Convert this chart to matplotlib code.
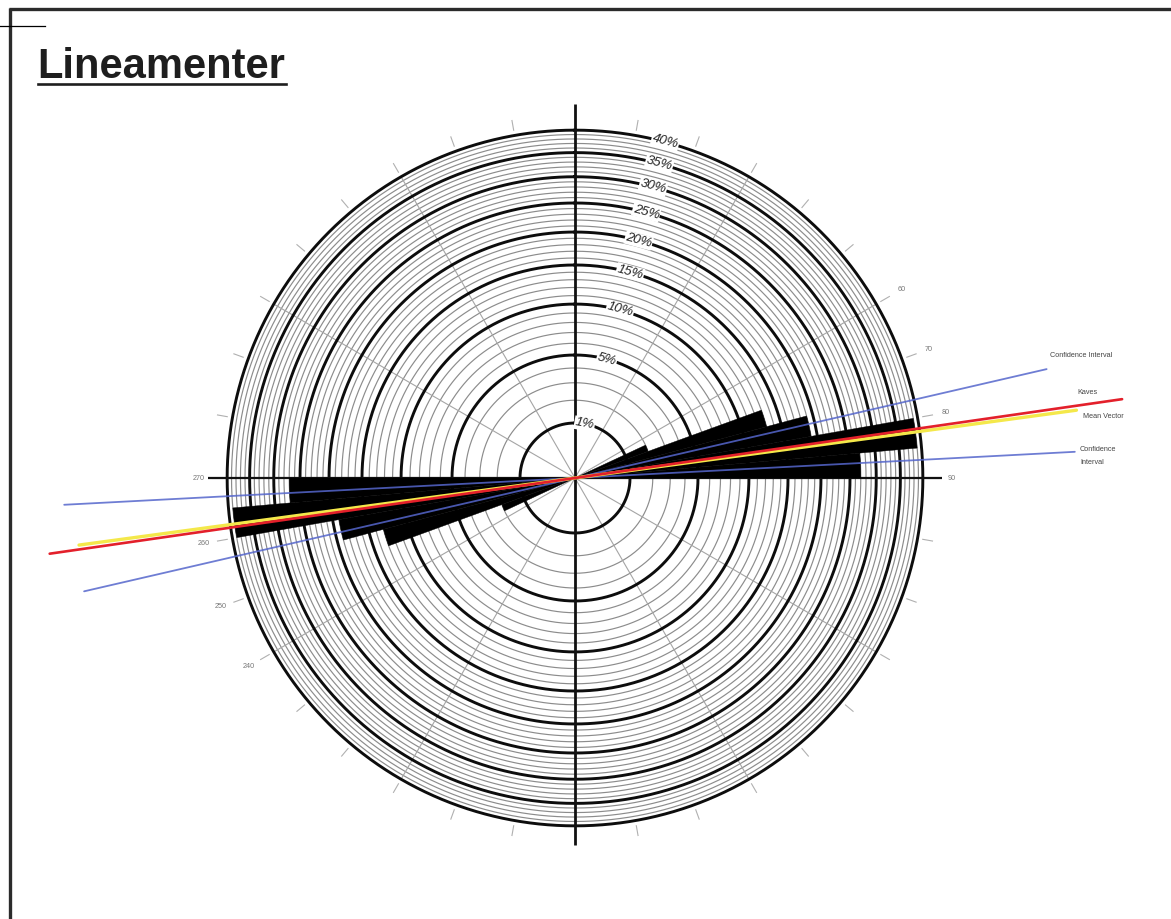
import numpy as np
import matplotlib.pyplot as plt
from matplotlib.lines import Line2D

# ---- data -------------------------------------------------------------
bin_start = [65, 70, 75, 80, 85]          # azimuth bins (degrees), 5° wide
bin_pct = [2, 13, 19, 39, 27]             # percent of lineaments per bin
bin_width = 5

ring_pct = list(range(1, 41))             # equal-area rings every 1 %
ring_major = [1, 5, 10, 15, 20, 25, 30, 35, 40]

mean_vector_az = 82.3                     # mean direction
kaves_az = 81.8
conf_low_az = 77.0                        # confidence interval
conf_high_az = 87.0

deg_labels = [60, 70, 80, 90, 240, 250, 260, 270]

# ---- figure -----------------------------------------------------------
W, H = 1171, 919
fig = plt.figure(figsize=(W / 100, H / 100), dpi=100)
fig.patch.set_facecolor("white")

PX = 55.0                  # pixels per sqrt(%) unit
CX, CY = 575, 478          # centre of the net in pixels
RMAX = 10.5
R = RMAX * PX
ax = fig.add_axes([(CX - R) / W, (H - CY - R) / H, 2 * R / W, 2 * R / H],
                  projection="polar")
ax.set_theta_zero_location("N")
ax.set_theta_direction(-1)
ax.set_rlim(0, RMAX)
ax.set_axis_off()


def rr(p):
    """Equal-area radius for a percentage."""
    return np.sqrt(p)


th = np.linspace(0, 2 * np.pi, 721)
r_out = rr(40)

# rings
for p in ring_pct:
    if p in ring_major:
        ax.plot(th, np.full_like(th, rr(p)), color="#0d0d0d", lw=2.1, zorder=2)
    else:
        ax.plot(th, np.full_like(th, rr(p)), color="#8c8c8c", lw=0.85, zorder=1)

# radial grid every 30°
for az in range(30, 360, 30):
    if az % 90 == 0:
        continue
    t = np.deg2rad(az)
    ax.plot([t, t], [0, r_out], color="#a5a5a5", lw=0.8, zorder=1.5)

# outer ticks every 10°
for az in range(0, 360, 10):
    t = np.deg2rad(az)
    ax.plot([t, t], [6.42, 6.60], color="#b0b0b0", lw=0.8, zorder=1.5)

# degree labels
for d in deg_labels:
    ax.text(np.deg2rad(d), 6.85, str(d), fontsize=5.2, color="#777777",
            ha="center", va="center", family="Liberation Sans")


# main cross
def through_centre(az, r_fwd, r_back, **kw):
    tf = np.deg2rad(az)
    tb = np.deg2rad(az + 180)
    ax.plot([tb, tb, tf, tf], [r_back, 0, 0, r_fwd], **kw)


through_centre(0, 6.80, 6.68, color="#111111", lw=2.0, zorder=2.5,
               solid_capstyle="butt")
through_centre(90, 6.68, 6.68, color="#111111", lw=1.6, zorder=2.5,
               solid_capstyle="butt")

# petals (axial data: mirrored through 180°)
centres = np.deg2rad(np.array(bin_start) + bin_width / 2)
heights = rr(np.array(bin_pct, dtype=float))
for off in (0, np.pi):
    ax.bar(centres + off, heights, width=np.deg2rad(bin_width), bottom=0,
           color="black", edgecolor="black", lw=0.3, align="center", zorder=3)

# percentage labels on the rings
for p in ring_major:
    az = 10 if p == 1 else 15
    ax.text(np.deg2rad(az), rr(p), f"{p}%", rotation=-az, rotation_mode="anchor",
            ha="center", va="center", fontsize=9.5, style="italic",
            color="#222222", family="Liberation Sans", zorder=4,
            bbox=dict(facecolor="white", edgecolor="none", pad=0.6))

# confidence interval, mean vector, kaves
blue = "#5566cc"
through_centre(conf_low_az, 8.8, 9.16, color=blue, lw=1.3, alpha=0.85,
               zorder=5, solid_capstyle="round")
through_centre(conf_high_az, 9.1, 9.3, color=blue, lw=1.3, alpha=0.85,
               zorder=5, solid_capstyle="round")
through_centre(mean_vector_az, 9.2, 9.1, color="#f4e84a", lw=2.4, zorder=5.5,
               solid_capstyle="round")
through_centre(kaves_az, 10.05, 9.65, color="#e3202b", lw=1.9, zorder=6,
               solid_capstyle="round")


# ---- annotation text and page decoration (figure pixel coords) --------
def fx(x):
    return x / W


def fy(y):
    return 1 - y / H


lab_kw = dict(fontsize=5.2, color="#444444", family="Liberation Sans",
              ha="left", va="center")
fig.text(fx(1050), fy(356), "Confidence Interval", **lab_kw)
fig.text(fx(1077), fy(393), "Kaves", **lab_kw)
fig.text(fx(1083), fy(416), "Mean Vector", **lab_kw)
fig.text(fx(1080), fy(449), "Confidence", **lab_kw)
fig.text(fx(1080), fy(462), "Interval", **lab_kw)

frame = "#2b2b2b"
fig.add_artist(Line2D([fx(9), fx(W + 5)], [fy(9), fy(9)], color=frame, lw=2.4,
                      solid_capstyle="butt"))
fig.add_artist(Line2D([fx(10), fx(10)], [fy(8), fy(H + 5)], color=frame, lw=2.4,
                      solid_capstyle="butt"))
fig.add_artist(Line2D([fx(0), fx(45)], [fy(26), fy(26)], color="black", lw=0.9))

fig.text(fx(37), fy(78), "Lineamenter", fontsize=30, fontweight="bold",
         family="Liberation Sans", color="#1e1e1e", ha="left", va="baseline")
fig.add_artist(Line2D([fx(38), fx(286)], [fy(84), fy(84)], color="#1e1e1e",
                      lw=1.9))

fig.savefig("out.png", dpi=100)
